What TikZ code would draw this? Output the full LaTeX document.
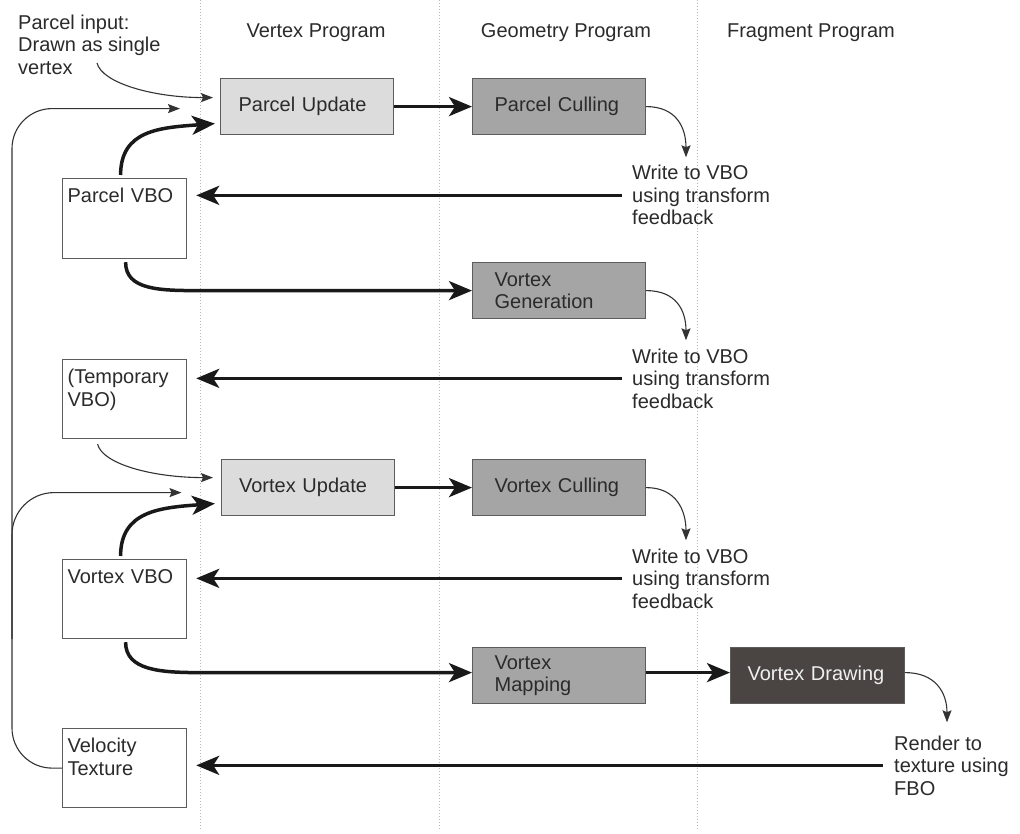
\documentclass[tikz,border=0pt]{standalone}
\usepackage{fontspec}
\setmainfont{Liberation Sans}
\usetikzlibrary{arrows.meta}
\definecolor{lightfill}{HTML}{DCDCDC}
\definecolor{midfill}{HTML}{A5A5A5}
\definecolor{darkfill}{HTML}{4A4543}
\definecolor{edgecol}{HTML}{5C5C5C}
\definecolor{ink}{HTML}{2B2B2B}
\definecolor{sepcol}{HTML}{B8B8B8}
\begin{document}
\begin{tikzpicture}[x=1pt,y=-1pt,
  every node/.style={font=\fontsize{20}{22.5}\selectfont, text=ink, inner sep=0pt},
  txt/.style={align=left},
  boxbase/.style={draw=edgecol, line width=1.2pt, anchor=north west, minimum height=56pt, align=left},
  pbox/.style={boxbase, fill=lightfill, inner xsep=18pt, text width=137pt},
  mbox/.style={boxbase, fill=midfill, inner xsep=22pt, text width=129pt},
  dbox/.style={boxbase, fill=darkfill, inner xsep=17pt, text width=140pt, text=white!94!black},
  wbox/.style={draw=edgecol, line width=1.2pt, fill=white, anchor=north west, inner xsep=5pt, inner ysep=9pt, text width=114pt, align=left, text height=15pt, text depth=46pt},
  bigarrow/.style={line width=3.5pt, draw=black!90, line cap=butt, -{Stealth[length=23pt,width=19pt,inset=6pt]}},
  smallarrow/.style={line width=1.1pt, draw=black!80, -{Stealth[length=12pt,width=9pt,inset=2pt]}},
  sepline/.style={draw=sepcol, line width=0.9pt, dash pattern=on 1pt off 2pt}
]
\fill[white] (0,0) rectangle (1020,834);
\useasboundingbox (0,0) rectangle (1020,834);

% column separators
\foreach \x in {200,439,697} \draw[sepline] (\x,0) -- (\x,830);

% headers
\node[anchor=base] (hv) at (316,38) {Vertex Program};
\node[anchor=base] (hg) at (566,38) {Geometry Program};
\node[anchor=base] (hf) at (811,38) {Fragment Program};

% (base anchor of a multi-line node = baseline of its last line)
\node[txt, anchor=base west] (pin) at (18,74.5) {Parcel input:\\Drawn as single\\vertex};

% boxes
\node[pbox] (pu) at (220,78) {Parcel Update};
\node[mbox] (pc) at (472,78) {Parcel Culling};
\node[mbox] (vg) at (472,262) {Vortex\\Generation};
\node[pbox] (vu) at (220.5,459) {Vortex Update};
\node[mbox] (vc) at (472,459) {Vortex Culling};
\node[mbox] (vm) at (472,647) {Vortex\\Mapping};
\node[dbox] (vd) at (730,647) {Vortex Drawing};

\node[wbox, text depth=47pt] (pvbo) at (62,178) {Parcel VBO};
\node[wbox] (tvbo) at (62,359) {(Temporary\\VBO)};
\node[wbox] (vvbo) at (62,559) {Vortex VBO};
\node[wbox] (vt) at (62,728) {Velocity\\Texture};

% notes
\node[txt, anchor=base west] (w1) at (632,225) {Write to VBO\\using transform\\feedback};
\node[txt, anchor=base west] (w2) at (632,408) {Write to VBO\\using transform\\feedback};
\node[txt, anchor=base west] (w3) at (632,608) {Write to VBO\\using transform\\feedback};
\node[txt, anchor=base west] (rt) at (894,795) {Render to\\texture using\\FBO};

% helper coordinates
\coordinate (pinout) at (97,63);
\coordinate (lx) at (12,0);
\coordinate (lp1) at ([shift={(-40,2)}]pu.west);
\coordinate (lp2) at ([shift={(-39,5)}]vu.west);

% thick straight arrows
\draw[bigarrow] (pu.east) -- (pc.west);
\draw[bigarrow] (vu.east) -- (vc.west);
\draw[bigarrow] ([yshift=3pt]vm.east) -- ([yshift=3pt]vd.west);
\draw[bigarrow, shorten <=10pt, shorten >=9pt] (w1.west) -- (pvbo.east |- w1.west);
\draw[bigarrow, shorten <=10pt, shorten >=9pt] (w2.west) -- (tvbo.east |- w2.west);
\draw[bigarrow, shorten <=10pt, shorten >=9pt] (w3.west) -- (vvbo.east |- w3.west);
\draw[bigarrow, shorten <=11pt, shorten >=9pt] (rt.west) -- (vt.east |- rt.west);

% thick curved arrows
\draw[bigarrow] ([shift={(-4,-3)}]pvbo.north) .. controls +(0,-45) and +(-55,4) .. ([shift={(-5,17)}]pu.west);
\draw[bigarrow] ([shift={(-4,-3)}]vvbo.north) .. controls +(0,-45) and +(-55,4) .. ([shift={(-5.5,16)}]vu.west);
\draw[bigarrow] ([shift={(1,3)}]pvbo.south) .. controls +(0,28) and +(-40,0) .. ([shift={(-272,0)}]vg.west) -- (vg.west);
\draw[bigarrow] ([shift={(1,3)}]vvbo.south) .. controls +(0,28) and +(-40,0) .. ([shift={(-272,-3)}]vm.west) -- ([shift={(0,-3)}]vm.west);

% thin curved arrows
\draw[smallarrow] (pc.east) .. controls +(30,0) and +(0,-30) .. ([shift={(54,-8)}]w1.north west);
\draw[smallarrow] (vg.east) .. controls +(30,0) and +(0,-30) .. ([shift={(54,-8)}]w2.north west);
\draw[smallarrow] (vc.east) .. controls +(30,0) and +(0,-30) .. ([shift={(54,-8)}]w3.north west);
\draw[smallarrow] ([yshift=3pt]vd.east) .. controls +(30,0) and +(0,-30) .. ([shift={(53,-13)}]rt.north west);
\draw[smallarrow] (pinout) .. controls +(5,20) and +(-60,0) .. ([shift={(-7,-9)}]pu.west);
\draw[smallarrow] ([shift={(-27,5)}]tvbo.south) .. controls +(5,20) and +(-60,0) .. ([shift={(-7.5,-10)}]vu.west);

% feedback loop from velocity texture
\draw[smallarrow, rounded corners=40pt] (vt.west) -- (vt.west -| lx) -- (lx |- lp1) -- (lp1);
\draw[smallarrow, rounded corners=42pt] (lx |- vvbo.south) -- (lx |- lp2) -- (lp2);
\end{tikzpicture}
\end{document}
